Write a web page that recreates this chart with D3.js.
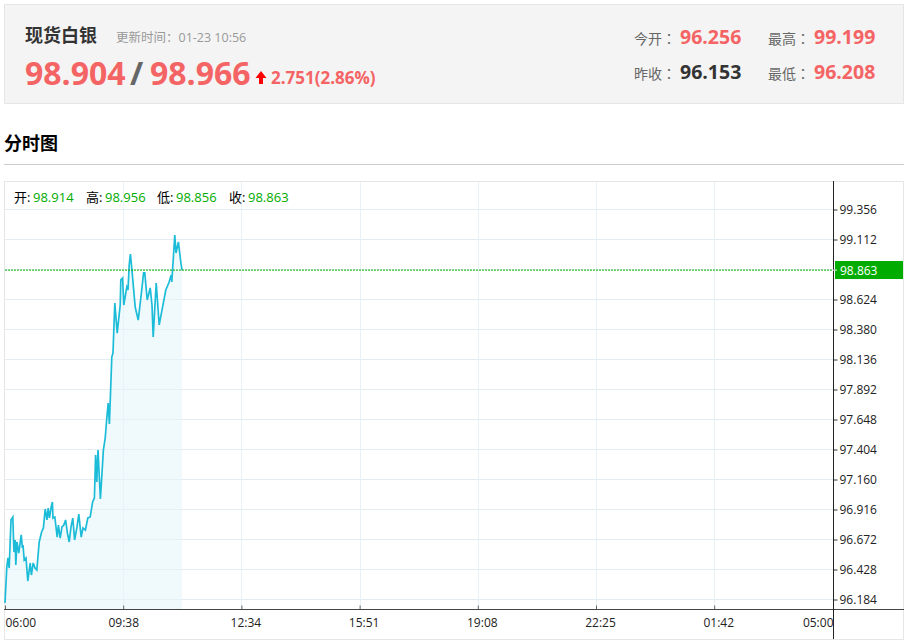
<!DOCTYPE html>
<html>
<head>
<meta charset="utf-8">
<style>
  html, body { margin: 0; padding: 0; background: #fff; overflow: hidden; }
  svg { display: block; }
  text { font-family: "Open Sans", "Noto Sans CJK SC", sans-serif; }
</style>
</head>
<body>
<div id="chart"></div>
<script src="https://cdn.jsdelivr.net/npm/d3@7"></script>
<script>
// minutes since 06:00, and the price at that minute
const minutes = [0,3,5,7,10,13,15,17,18,20,23,27,29,30,32,35,38,42,44,47,50,53,57,61,64,67,70,72,74,77,79,80,83,87,89,92,95,98,101,104,107,110,113,116,120,123,127,130,134,138,142,146,149,151,153,155,159,164,167,169,172,174,178,180,183,187,192,193,196,198,203,205,207,209,212,217,222,226,231,233,237,242,245,247,252,257,261,268,273,277,278,283,285,289,293,295];
const prices = [96.156,96.448,96.522,96.440,96.831,96.855,96.570,96.668,96.465,96.652,96.562,96.709,96.603,96.627,96.505,96.522,96.334,96.481,96.383,96.481,96.440,96.424,96.652,96.733,96.766,96.920,96.831,96.928,96.847,96.936,96.977,96.847,96.855,96.692,96.790,96.684,96.774,96.790,96.831,96.725,96.652,96.774,96.847,96.668,96.774,96.879,96.692,96.766,96.749,96.847,96.855,96.977,97.010,97.359,97.140,97.400,97.001,97.400,97.497,97.620,97.782,97.611,98.156,98.189,98.596,98.351,98.579,98.783,98.799,98.579,98.726,98.701,98.905,98.994,98.840,98.563,98.457,98.620,98.840,98.840,98.620,98.718,98.579,98.319,98.758,98.417,98.522,98.701,98.758,98.823,98.766,99.149,99.002,99.092,98.929,98.863];

const yTicks = [99.356,99.112,98.868,98.624,98.380,98.136,97.892,97.648,97.404,97.160,96.916,96.672,96.428,96.184];
const xTickMinutes = [0,197,394,591,788,985,1182,1380];
const xTickLabels = ["06:00","09:38","12:34","15:51","19:08","22:25","01:42","05:00"];

const lastClose = 98.863;
const ohlcLabels = ["开:","高:","低:","收:"];
const ohlcValues = ["98.914","98.956","98.856","98.863"];

const W = 908, H = 644;
const RED = "#f46464", GREEN = "#00ac00", GRID = "#e4eef2";

const svg = d3.select("#chart").append("svg").attr("width", W).attr("height", H);

function label(x, y, str, size, color, bold){
  return svg.append("text").attr("x", x).attr("y", y)
    .attr("font-size", size).attr("fill", color)
    .attr("font-weight", bold ? "bold" : "normal").text(str);
}

// header panel
svg.append("rect").attr("x",4.5).attr("y",4.5).attr("width",899).attr("height",99)
   .attr("fill","#f4f4f4").attr("stroke","#e6e6e6");

label(25, 42, "现货白银", 18, "#333", true);
label(116, 42, "更新时间：01-23 10:56", 12.5, "#999");
label(25, 85, "98.904", 32, RED, true);
label(130, 85, "/", 32, "#666", true);
label(150, 85, "98.966", 32, RED, true);
svg.append("path").attr("d","M261 71L266.5 78H263V84H259V78H255.5Z").attr("fill","#f00");
label(271, 84, "2.751(2.86%)", 17, RED, true);

// the traditional CJK face centres its colon, as the reference does
const statLabel = (x, y, str) => label(x, y, str, 14, "#666").style("font-family", '"Noto Sans CJK TC", sans-serif');
statLabel(634, 44, "今开：");
label(680, 44, "96.256", 19.5, RED, true);
statLabel(768, 44, "最高：");
label(814, 44, "99.199", 19.5, RED, true);
statLabel(634, 79, "昨收：");
label(680, 79, "96.153", 19.5, "#333", true);
statLabel(768, 79, "最低：");
label(814, 79, "96.208", 19.5, RED, true);

label(4, 150, "分时图", 18, "#000", true);
svg.append("line").attr("x1",4).attr("x2",904).attr("y1",164.5).attr("y2",164.5).attr("stroke","#ccc");

// chart frame
svg.append("rect").attr("x",4.5).attr("y",181.5).attr("width",899).attr("height",458)
   .attr("fill","#fff").attr("stroke","#e6e6e6");

const x = d3.scaleLinear().domain([0,1380]).range([5,833]);
const y = d3.scaleLinear().domain([96.184,99.356]).range([599.5,209.5]);

// grid
svg.append("g").selectAll("line").data(yTicks).join("line")
   .attr("x1",5).attr("x2",833).attr("y1",d=>y(d)).attr("y2",d=>y(d))
   .attr("stroke",GRID);
svg.append("g").selectAll("line").data(xTickMinutes.slice(1,-1)).join("line")
   .attr("x1",d=>Math.round(x(d))+.5).attr("x2",d=>Math.round(x(d))+.5)
   .attr("y1",182).attr("y2",609).attr("stroke","#e8f1f6");

const series = minutes.map((m,i)=>({m:m, p:prices[i]}));

svg.append("path").datum(series)
   .attr("fill","#e3f5fb").attr("fill-opacity",0.55)
   .attr("d", d3.area().x(d=>x(d.m)).y0(609).y1(d=>y(d.p)));

svg.append("path").datum(series)
   .attr("fill","none").attr("stroke","#1cbcd8").attr("stroke-width",1.7)
   .attr("d", d3.line().x(d=>x(d.m)).y(d=>y(d.p)));

// last price line
svg.append("line").attr("x1",5).attr("x2",833)
   .attr("y1",y(lastClose)).attr("y2",y(lastClose))
   .attr("stroke",GREEN).attr("stroke-dasharray","2 1");

// axes
const yAxis = d3.axisRight(y).tickValues(yTicks).tickFormat(d3.format(".3f")).tickSize(4).tickPadding(2);
const yG = svg.append("g").attr("transform","translate(833.5,0)").call(yAxis);
yG.select(".domain").remove();
yG.selectAll("line").attr("stroke","#333");
yG.selectAll("text").attr("font-size",12).attr("fill","#222").style("font-family",'"Open Sans",sans-serif');

const xAxis = d3.axisBottom(x).tickValues(xTickMinutes)
   .tickFormat((d,i)=>xTickLabels[i]).tickSize(-4).tickPadding(9);
const xG = svg.append("g").attr("transform","translate(0,609.5)").call(xAxis);
xG.select(".domain").remove();
xG.selectAll("line").attr("stroke","#666");
xG.selectAll("text").attr("font-size",12).attr("fill","#222")
  .style("font-family",'"Open Sans",sans-serif')
  .attr("text-anchor",(d,i)=> i===0 ? "start" : i===xTickLabels.length-1 ? "end" : "middle")
  .attr("dx",(d,i)=> i>1 && i<xTickLabels.length-1 ? 4 : 0);

svg.append("line").attr("x1",4).attr("x2",904).attr("y1",609.5).attr("y2",609.5).attr("stroke","#444");
svg.append("line").attr("x1",833.5).attr("x2",833.5).attr("y1",181).attr("y2",639).attr("stroke","#222");

// last price tag
svg.append("rect").attr("x",835).attr("y",261).attr("width",68).attr("height",18).attr("fill",GREEN);
svg.append("line").attr("x1",833).attr("x2",837).attr("y1",y(lastClose)).attr("y2",y(lastClose)).attr("stroke","#fff");
label(840, 275, d3.format(".3f")(lastClose), 12, "#fff");

// ohlc row
[14,86,157,229].forEach((px,i)=>{
  label(px, 202, ohlcLabels[i], 13, "#000");
  label(px+19, 202, ohlcValues[i], 13, GREEN);
});
</script>
</body>
</html>
